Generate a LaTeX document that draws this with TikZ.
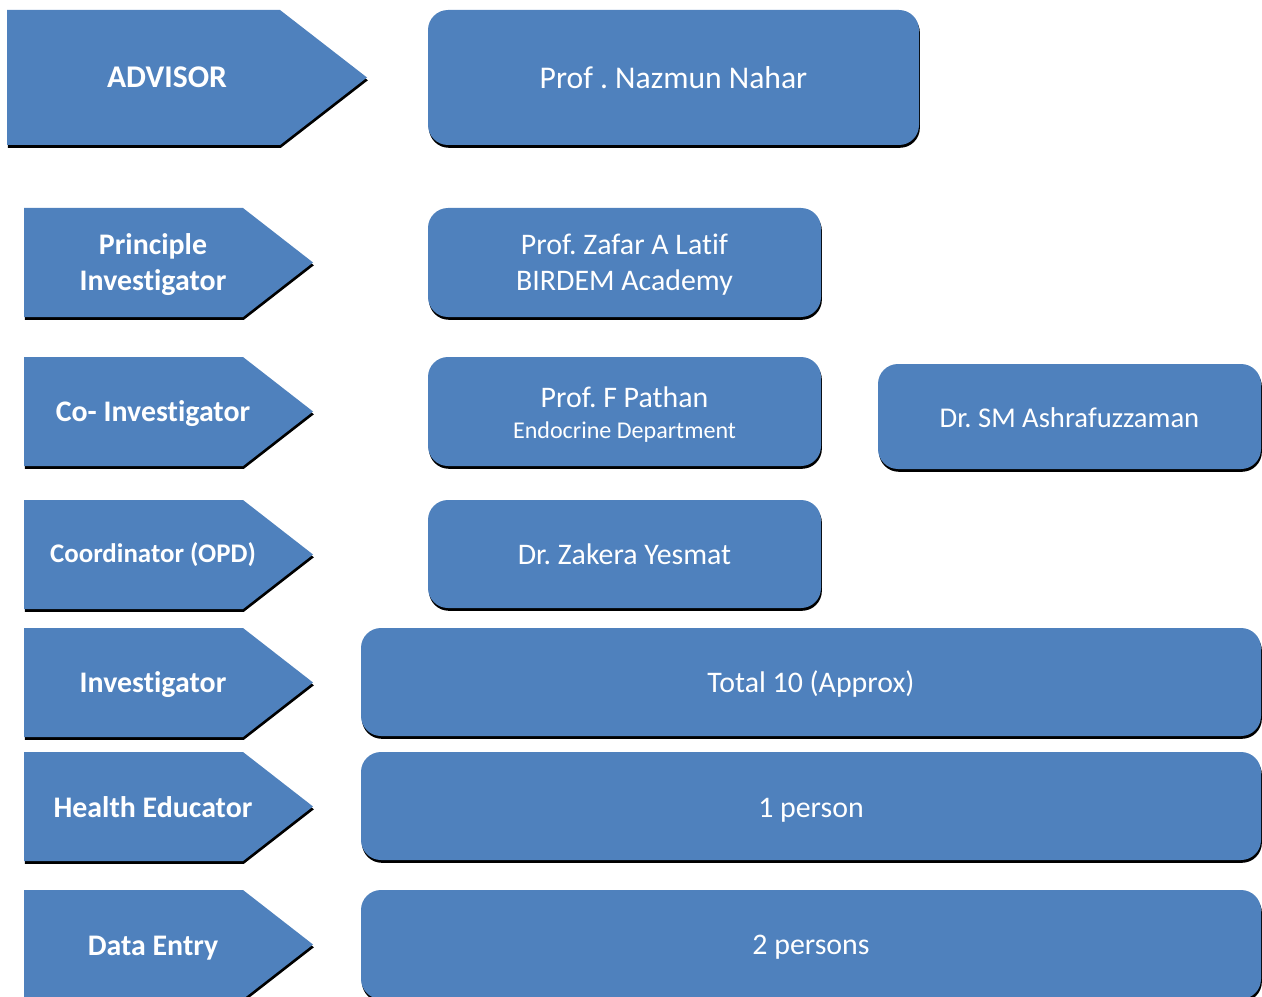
\documentclass[tikz,border=0pt]{standalone}
\usepackage{fontspec}
\setmainfont{Carlito}[Ligatures=NoCommon]
\usepackage{tikz}
\usetikzlibrary{positioning, shadows}
\definecolor{TeamBlue}{HTML}{4F81BD}
\frenchspacing

\begin{document}
\begin{tikzpicture}[x=0.02cm, y=-0.02cm,
  every node/.style={text=white, align=center, inner sep=0pt, outer sep=0pt},
  darkshadow/.style={drop shadow={shadow xshift=0.5pt, shadow yshift=-1.6pt,
    fill=black, opacity=1}},
  role/.style={fill=TeamBlue, darkshadow},
  rolelabel/.style={font=\bfseries\fontsize{17}{20.5}\selectfont},
  namebox/.style={fill=TeamBlue, rounded corners=0.4cm, darkshadow},
  nametext/.style={font=\fontsize{17}{20.5}\selectfont}
]
  \useasboundingbox (0,0) rectangle (1262,997);
  \clip (0,0) rectangle (1262,997);

  % Role chevrons
  \path[role] (7,10) -- (280,10) -- (367,77.5) -- (280,145) -- (7,145) -- cycle;
  \node[rolelabel, font=\bfseries\fontsize{18}{20}\selectfont] (advisor)
    at (167,77) {ADVISOR};
  \foreach \top/\dy/\name/\txt in {208/57/pi/{Principle\\Investigator},
                              357/57/coi/{Co- Investigator},
                              500/55/coord/{\fontsize{15.3}{18}\selectfont Coordinator (OPD)},
                              628/57/inv/{Investigator},
                              752/55/edu/{Health Educator},
                              890/58/entry/{Data Entry}} {
    \path[role] (24,\top) -- (243,\top) -- (313,\top+54.5)
      -- (243,\top+109) -- (24,\top+109) -- cycle;
    \node[rolelabel] (\name) at (153,\top+\dy) {\txt};
  }

  % Name boxes
  \path[namebox] (428,10) rectangle (919,145);
  \path[namebox] (428,208) rectangle (821,317);
  \path[namebox] (428,357) rectangle (821,466);
  \path[namebox] (878,364) rectangle (1261,469);
  \path[namebox] (428,500) rectangle (821,608);
  \path[namebox] (361,628) rectangle (1261,736);
  \path[namebox] (361,752) rectangle (1261,860);
  \path[namebox] (361,890) rectangle (1261,999);

  % Names
  \node[nametext, font=\fontsize{18}{20}\selectfont] (nahar)
    at (673.5,77.5) {Prof . Nazmun Nahar};
  \node[nametext] (latif) at (624.5,264.5) {Prof. Zafar A Latif\\BIRDEM Academy};
  \node[nametext] (pathan) at (624.5,414.5)
    {Prof. F Pathan\\[-3pt]{\fontsize{13.7}{15}\selectfont Endocrine Department}};
  \node[nametext, font=\fontsize{16.3}{20}\selectfont] (ashraf)
    at (1069.5,417.5) {Dr. SM Ashrafuzzaman};
  \node[nametext] (yesmat) at (624.5,554) {Dr. Zakera Yesmat};
  \node[nametext] (total) at (811,684) {Total 10 (Approx)};
  \node[nametext] (oneperson) at (811,810) {1 person};
  \node[nametext] (twopersons) at (811,947.5) {2 persons};
\end{tikzpicture}
\end{document}
